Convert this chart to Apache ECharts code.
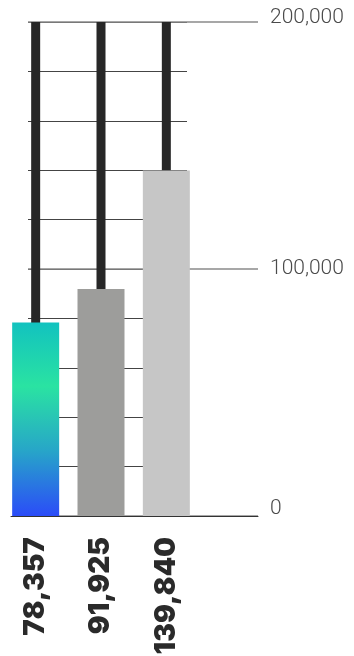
<!DOCTYPE html>
<html>
<head>
<meta charset="utf-8">
<script src="https://cdn.jsdelivr.net/npm/echarts@6/dist/echarts.min.js"></script>
<style>
  html, body { margin: 0; padding: 0; background: #fff; }
  #chart { width: 354px; height: 656px; }
</style>
</head>
<body>
<div id="chart"></div>
<script>
const values = [78357, 91925, 139840];
const categories = ["78,357", "91,925", "139,840"];
const yTicks = [0, 100000, 200000];
const barColors = [null, "#9d9d9b", "#c6c6c6"];
const trackMax = [200000, 200000, 200000];

const chart = echarts.init(document.getElementById("chart"));

const teal = new echarts.graphic.LinearGradient(0, 0, 0, 1, [
  { offset: 0, color: "#12c2bf" },
  { offset: 0.33, color: "#2ae3a2" },
  { offset: 0.66, color: "#27a6c8" },
  { offset: 1, color: "#2b4cf8" },
]);

const gTop = 22, gBottom = 140;
const gridBase = { top: gTop, bottom: gBottom, outerBoundsMode: "none", containLabel: false };

const option = {
  animation: false,
  grid: [
    { ...gridBase, left: 3, right: 155 },   // bars
    { ...gridBase, left: 28, right: 167 },  // minor grid lines
    { ...gridBase, left: 28, right: 96 },   // major lines + labels
    { ...gridBase, left: 11, right: 96 },   // zero line
  ],
  xAxis: [
    {
      type: "category", gridIndex: 0, data: categories,
      axisLine: { show: false }, axisTick: { show: false },
      axisLabel: {
        rotate: 90, margin: 21, interval: 0,
        fontFamily: "Inter", fontWeight: 900, fontSize: 28, color: "#2a2a2a",
      },
    },
    { type: "category", gridIndex: 0, data: categories, show: false },
    { type: "category", gridIndex: 1, show: false },
    { type: "category", gridIndex: 2, show: false },
    {
      type: "category", gridIndex: 3,
      axisLine: { show: true, lineStyle: { color: "#333", width: 1 } },
      axisTick: { show: false }, axisLabel: { show: false },
    },
  ],
  yAxis: [
    { type: "value", gridIndex: 0, min: 0, max: 200000, show: false },
    {
      type: "value", gridIndex: 1, min: 0, max: 200000, interval: 20000,
      axisLine: { show: false }, axisTick: { show: false }, axisLabel: { show: false },
      splitLine: { lineStyle: { color: "#444", width: 1 } },
    },
    {
      type: "value", gridIndex: 2, min: 0, max: 200000, interval: 100000,
      position: "right",
      axisLine: { show: false }, axisTick: { show: false },
      splitLine: { lineStyle: { color: "#8a8a8a", width: 1.5 } },
      axisLabel: {
        margin: 12,
        formatter: (v) => {
          const s = v.toLocaleString("en-US");
          if (v === yTicks[0]) return "{lo|" + s + "}";
          if (v === yTicks[2]) return "{hi|" + s + "}";
          return "{n|" + s + "}";
        },
        rich: {
          n: { fontFamily: "Roboto", fontWeight: 300, fontSize: 21, color: "#4a4a4a" },
          lo: { fontFamily: "Roboto", fontWeight: 300, fontSize: 21, color: "#4a4a4a", padding: [0, 0, 14, 0] },
          hi: { fontFamily: "Roboto", fontWeight: 300, fontSize: 21, color: "#4a4a4a", padding: [0, 0, 8, 0] },
        },
      },
    },
    { type: "value", gridIndex: 3, min: 0, max: 200000, show: false },
  ],
  series: [
    {
      type: "bar", xAxisIndex: 1, yAxisIndex: 0, barWidth: 9,
      data: trackMax, itemStyle: { color: "#272727" }, silent: true,
    },
    {
      type: "bar", xAxisIndex: 0, yAxisIndex: 0, barWidth: 47,
      data: values.map((v, i) => ({
        value: v,
        itemStyle: { color: barColors[i] || teal },
      })),
    },
  ],
};

chart.setOption(option);
</script>
</body>
</html>
